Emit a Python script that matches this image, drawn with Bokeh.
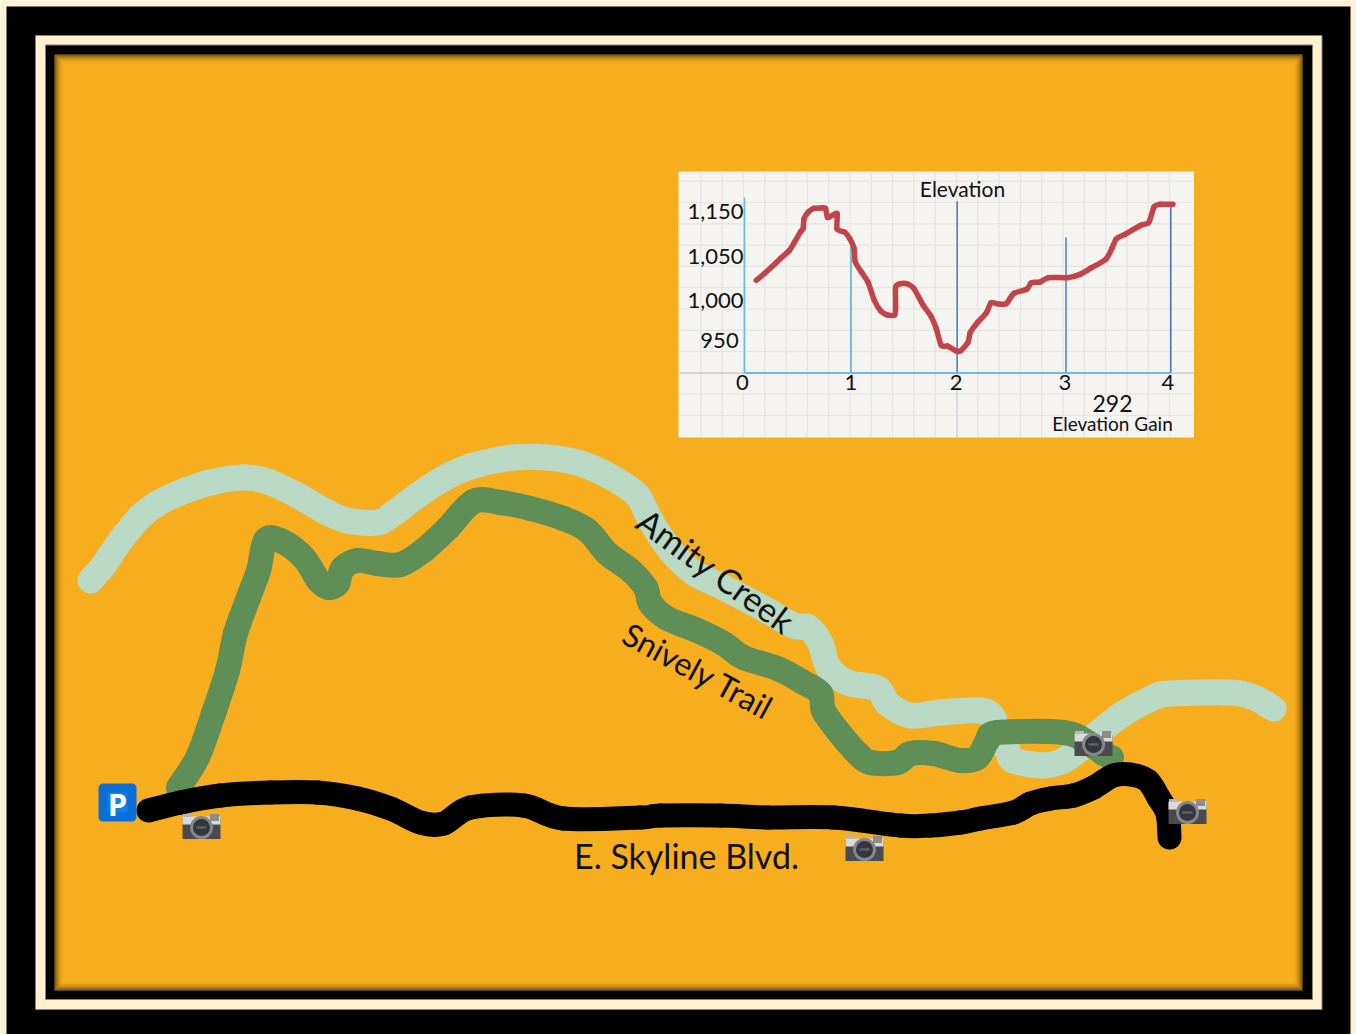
import numpy as np
from bokeh.embed import file_html
from bokeh.models import Range1d
from bokeh.plotting import figure
from bokeh.resources import INLINE
from bokeh.core.properties import value

# ---------- data ----------
creek_x = [90,103,120,140,157,180,210,243,267,297,327,347,377,393,417,443,470,513,547,580,613,637,650,670,693,723,763,793,808,820,828,847,877,887,910,940,980,993,995,1007,1013,1043,1063,1080,1097,1123,1153,1170,1240,1273]
creek_y = [580,565,540,516,503,492,482,477,481,495,512,520,522,513,495,478,466,457,457,463,478,495,520,550,572,587,608,625,627,643,667,682,688,703,715,712,710,718,733,750,760,765,760,748,733,713,697,693,693,708]

trail_x = [178,197,213,227,235,248,258,265,280,303,318,328,337,342,357,377,400,423,447,473,500,530,563,587,607,630,645,650,667,697,723,743,777,803,820,823,837,857,870,897,910,933,960,977,987,997,1063,1087,1103,1111]
trail_y = [787,757,713,670,633,597,570,540,540,557,580,587,583,568,560,563,564,550,528,501,502,508,518,530,553,570,587,603,618,630,643,657,668,682,693,710,730,753,762,762,753,753,760,757,740,732,732,742,753,757]

road_x = [148,180,220,270,317,357,390,420,443,470,523,563,640,660,720,767,833,900,930,960,980,1013,1030,1050,1073,1093,1113,1130,1147,1158,1167,1169]
road_y = [810,802,795,792,792,798,808,822,823,807,805,818,817,815,815,817,817,825,825,822,818,812,803,798,795,787,775,774,780,797,813,837]

camera_x = [201,864,1093,1187]
camera_y = [826,848,743,811]

parking_x = [117]
parking_y = [802]

miles = [0.11,0.19,0.29,0.34,0.42,0.47,0.53,0.55,0.56,0.60,0.65,0.72,0.76,0.78,0.83,0.87,0.87,0.94,0.99,1.03,1.04,1.10,1.16,1.22,1.28,1.34,1.41,1.42,1.42,1.46,1.53,1.59,1.68,1.75,1.80,1.85,1.91,1.99,2.03,2.10,2.12,2.19,2.27,2.31,2.37,2.45,2.52,2.64,2.68,2.76,2.84,3.02,3.14,3.24,3.38,3.44,3.48,3.57,3.71,3.79,3.84,3.90,4.02]
elevation = [1023,1031,1042,1048,1063,1082,1106,1112,1134,1149,1157,1158,1157,1137,1142,1145,1111,1104,1089,1067,1044,1032,1021,1000,987,982,982,992,1015,1019,1019,1014,994,981,966,944,943,937,937,948,960,973,985,997,996,996,1008,1013,1020,1021,1026,1026,1030,1037,1047,1069,1089,1100,1119,1126,1160,1166,1166]

x_ticks = [0,1,2,3,4]
x_tick_labels = ["0","1","2","3","4"]
y_ticks = [950,1000,1050,1150]
y_tick_labels = ["950","1,000","1,050","1,150"]
chart_title = "Elevation"
gain_value = "292"
gain_label = "Elevation Gain"

# ---------- layout ----------
FONT = value("Lato")
INK = "#111111"
W, H = 1356, 1034
mile_px = np.array([744, 850.5, 956.7, 1065.5, 1170.3])
elev_stops = np.array([900, 950, 1000, 1050, 1150, 1200])
elev_px = np.array([380, 340, 300, 256, 211, 188.5])
BASE = 372.5

def mx(v):
    return np.interp(v, x_ticks, mile_px) + np.maximum(np.array(v, float) - 4, 0) * 106

def ey(v):
    return np.interp(v, elev_stops, elev_px)

p = figure(width=W, height=H, x_range=Range1d(0, W), y_range=Range1d(H, 0),
           x_axis_type=None, y_axis_type=None, toolbar_location=None,
           output_backend="svg", min_border=0, outline_line_color=None,
           background_fill_color="#FFF0CF", border_fill_color="#FFF0CF")
p.grid.visible = False

def box(l, r, t, b, fill, line=None, lw=1, alpha=1.0):
    p.quad(left=[l], right=[r], top=[t], bottom=[b], fill_color=fill,
           line_color=line, line_width=lw, line_alpha=alpha)

def smooth(x, y, k=6.0, **kw):
    """Draw a polyline through the read points as joined Bezier spans."""
    x, y = np.asarray(x, float), np.asarray(y, float)
    xm, ym = np.r_[x[0], x[:-2]], np.r_[y[0], y[:-2]]
    xp, yp = np.r_[x[2:], x[-1]], np.r_[y[2:], y[-1]]
    p.bezier(x0=x[:-1], y0=y[:-1], x1=x[1:], y1=y[1:],
             cx0=x[:-1] + (x[1:] - xm) / k, cy0=y[:-1] + (y[1:] - ym) / k,
             cx1=x[1:] - (xp - x[:-1]) / k, cy1=y[1:] - (yp - y[:-1]) / k,
             line_cap="round", **kw)

# frames
box(6, 1350, 6, 1040, "#000000")
box(35, 1321.5, 35, 1009, "#FFF0CF", "#8a8472", 1)
box(45, 1312, 44.5, 999, "#000000", "#8a8472", 1)
box(54, 1302, 54, 990, "#F6AE1E")
for i in range(9):
    box(54.5 + i, 1301.5 - i, 54.5 + i, 989.5 - i, None, "#000000", 1, 0.55 * (1 - i / 9) ** 2)

# inset chart
box(678, 1193.5, 171, 437, "#F5F4F1")
grid_v = 700.4 + 21.3 * np.arange(23)
grid_h = 180.7 + 21.3 * np.arange(12)
p.segment(grid_v, 171, grid_v, 437, line_color="#E4E4E2", line_width=1.2)
p.segment(678, grid_h, 1193.5, grid_h, line_color="#E4E4E2", line_width=1.2)
p.segment(678, BASE, 1193.5, BASE, line_color="#BFC3C8", line_width=1.2)
p.segment(mx(2), BASE, mx(2), 437, line_color="#D3D6DE", line_width=1.5)

axis_tops = [197.3, 243, 200.7, 237, 201.7]
axis_colors = ["#66BDE2", "#5BB2D6", "#4F86C2", "#5B86BC", "#5078B8"]
p.segment(mx(x_ticks), axis_tops, mx(x_ticks), BASE, line_color=axis_colors, line_width=1.6)
p.segment(mx(0), BASE, mx(4), BASE, line_color="#6CBBE4", line_width=2)

smooth(mx(miles), ey(elevation), k=8.0, line_color="#C2434A", line_width=5.5)

p.text(mx(x_ticks) - [2, 0, 1, 1, 3], [382] * 5, text=x_tick_labels, text_font=FONT, text_font_size="22px",
       text_align="center", text_baseline="middle", text_color=INK)
p.text([719, 715, 715, 715], ey(y_ticks), text=y_tick_labels, text_font=FONT, text_font_size="22px",
       text_align="center", text_baseline="middle", text_color=INK)
p.text([962], [188], text=[chart_title], text_font=FONT, text_font_size="21px",
       text_align="center", text_baseline="middle", text_color=INK)
p.text([1112], [403], text=[gain_value], text_font=FONT, text_font_size="23px",
       text_align="center", text_baseline="middle", text_color=INK)
p.text([1112], [423], text=[gain_label], text_font=FONT, text_font_size="19px",
       text_align="center", text_baseline="middle", text_color=INK)

# routes
smooth(creek_x, creek_y, line_color="#B9D9C4", line_width=26)
smooth(trail_x, trail_y, line_color="#5F8E57", line_width=25)
smooth(road_x, road_y, line_color="#000000", line_width=24)

# parking sign
p.rect(parking_x, parking_y, width=29, height=29, fill_color="#0F7DEB",
       line_color="#0C6FD8", line_width=9, line_join="round")
p.text(parking_x, [py + 1 for py in parking_y], text=["P"], text_font=value("Open Sans"),
       text_font_style="bold", text_font_size="31px", text_align="center",
       text_baseline="middle", text_color="#FFFFFF")

# cameras
cx = np.array(camera_x, float)
cy = np.array(camera_y, float)
p.rect(cx, cy + 2, width=38, height=21, fill_color="#4B4B4E", line_color=None)
p.rect(cx, cy - 6, width=38, height=8, fill_color="#DADADA", line_color=None)
p.rect(cx - 14, cy - 11, width=9, height=3, fill_color="#B8B8B8", line_color=None)
p.rect(cx + 13, cy - 9, width=9, height=7, fill_color="#8E8E86", line_color=None)
p.circle(cx, cy + 1, radius=11.5, fill_color="#83878E", line_color=None)
p.circle(cx, cy + 1, radius=8.5, fill_color="#34373D", line_color=None)
p.rect(cx, cy + 1, width=10, height=2.5, fill_color="#5E6166", line_color=None)

# labels
label = dict(text_font=FONT, text_align="center", text_baseline="middle", text_color=INK)
p.text([716], [570], text=["Amity Creek"], text_font_size="34px", angle=-36, angle_units="deg", **label)
p.text([698], [670], text=["Snively Trail"], text_font_size="32px", angle=-28.5, angle_units="deg", **label)
p.text([686], [855], text=["E. Skyline Blvd."], text_font_size="34px", **label)

open("out.html", "w").write(file_html(p, INLINE))
